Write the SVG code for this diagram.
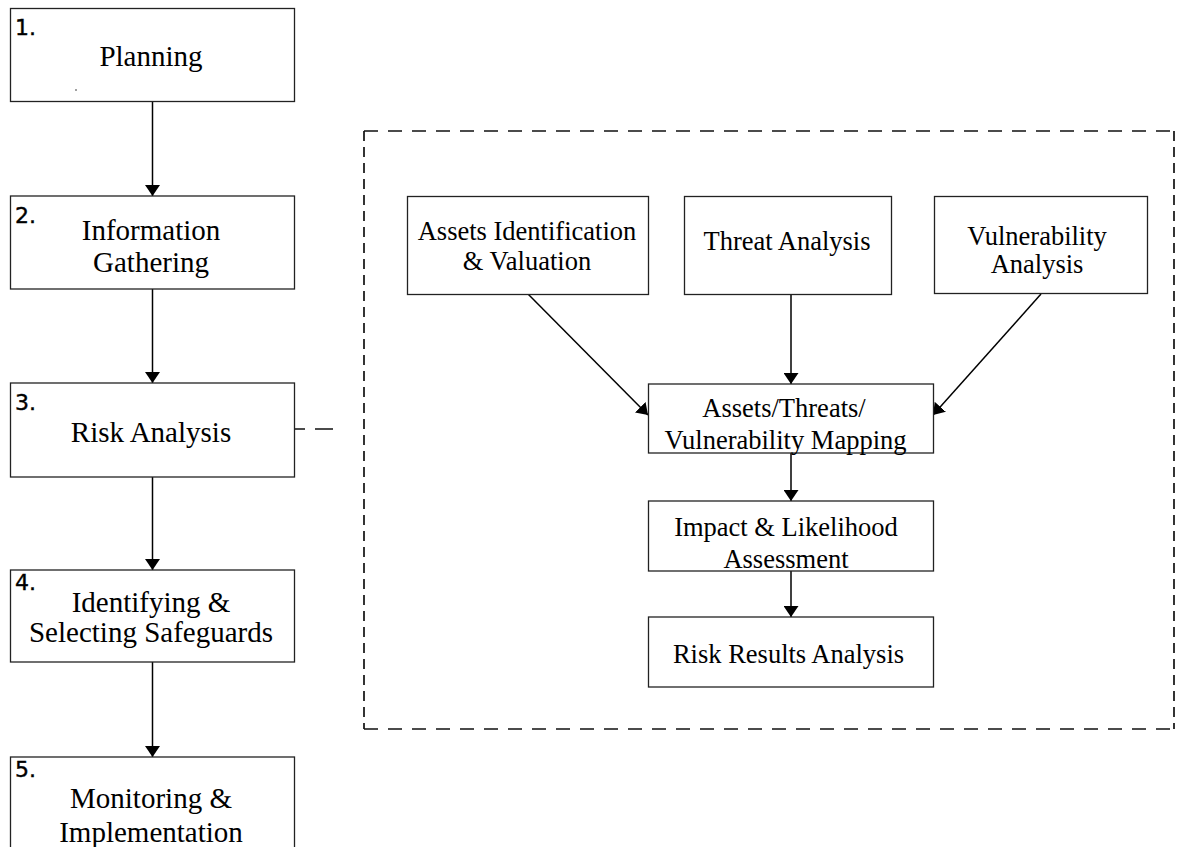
<svg xmlns="http://www.w3.org/2000/svg" width="1178" height="847" viewBox="0 0 1178 847">
<defs>
<marker id="arr" markerUnits="userSpaceOnUse" markerWidth="11" markerHeight="15" viewBox="0 0 11 15" refX="11" refY="7.5" orient="auto">
<path d="M0,0 L11,7.5 L0,15 z" fill="#000"/>
</marker>
</defs>
<style>
.box{fill:#fff;stroke:#222;stroke-width:1.3}
.t{font-family:"Liberation Serif","Times New Roman",serif;fill:#000;text-anchor:middle}
.o{font-size:29px}
.i{font-size:26.5px}
.n{font-family:"DejaVu Sans",Verdana,sans-serif;font-size:22px;fill:#000;stroke:#000;stroke-width:0.4}
.ca{stroke:#000;stroke-width:1.5;fill:none;marker-end:url(#arr)}
.d{stroke:#111;stroke-width:1.7;fill:none}
</style>
<rect width="1178" height="847" fill="#fff"/>
<g id="frame">
<line class="d" x1="364" y1="131" x2="1174" y2="131" stroke-dasharray="14 10"/>
<line class="d" x1="364" y1="729" x2="1174" y2="729" stroke-dasharray="14 10"/>
<line class="d" x1="364" y1="131" x2="364" y2="729" stroke-dasharray="10 6"/>
<line class="d" x1="1174" y1="131" x2="1174" y2="729" stroke-dasharray="10 6"/>
</g>
<g id="connectors">
<line class="ca" x1="152.5" y1="102" x2="152.5" y2="196"/>
<line class="ca" x1="152.5" y1="289" x2="152.5" y2="383"/>
<line class="ca" x1="152.5" y1="477" x2="152.5" y2="570"/>
<line class="ca" x1="152.5" y1="662" x2="152.5" y2="757"/>
<line class="d" x1="295" y1="429" x2="333" y2="429" stroke-dasharray="10 10 18"/>
<line class="ca" x1="528" y1="294" x2="648" y2="415"/>
<line class="ca" x1="791" y1="294" x2="791" y2="384"/>
<line class="ca" x1="1041" y1="294" x2="933" y2="415"/>
<line class="ca" x1="791" y1="453" x2="791" y2="501"/>
<line class="ca" x1="791" y1="571" x2="791" y2="617"/>
</g>
<g id="n1">
<rect class="box" x="10.5" y="8.5" width="284" height="93"/>
<text class="n" x="15" y="35">1.</text>
<text class="t o" x="151" y="66">Planning</text>
<rect x="75" y="89.5" width="2" height="1" fill="#444"/>
</g>
<g id="n2">
<rect class="box" x="10.5" y="196" width="284" height="93"/>
<text class="n" x="15" y="223">2.</text>
<text class="t o" x="151" y="240">Information</text>
<text class="t o" x="151" y="272">Gathering</text>
</g>
<g id="n3">
<rect class="box" x="10.5" y="383" width="284" height="94"/>
<text class="n" x="15" y="410">3.</text>
<text class="t o" x="151" y="442">Risk Analysis</text>
</g>
<g id="n4">
<rect class="box" x="10.5" y="570" width="284" height="92"/>
<text class="n" x="15" y="590">4.</text>
<text class="t o" x="151" y="612">Identifying &amp;</text>
<text class="t o" x="151" y="642">Selecting Safeguards</text>
</g>
<g id="n5">
<rect class="box" x="10.5" y="757" width="284" height="100"/>
<text class="n" x="15" y="777">5.</text>
<text class="t o" x="151" y="808">Monitoring &amp;</text>
<text class="t o" x="151" y="842">Implementation</text>
</g>
<g id="assets">
<rect class="box" x="407.5" y="196.5" width="241" height="98"/>
<text class="t i" x="527" y="240">Assets Identification</text>
<text class="t i" x="527" y="270">&amp; Valuation</text>
</g>
<g id="threat">
<rect class="box" x="684.5" y="196.5" width="207" height="98"/>
<text class="t i" x="787" y="250">Threat Analysis</text>
</g>
<g id="vuln">
<rect class="box" x="934.5" y="196.5" width="213" height="97"/>
<text class="t i" x="1037" y="245">Vulnerability</text>
<text class="t i" x="1037" y="273">Analysis</text>
</g>
<g id="mapping">
<rect class="box" x="648.5" y="384" width="285" height="69"/>
<text class="t i" x="784" y="417">Assets/Threats/</text>
<text class="t i" x="785.5" y="449">Vulnerability Mapping</text>
</g>
<g id="impact">
<rect class="box" x="648.5" y="501" width="285" height="70"/>
<text class="t i" x="786" y="536">Impact &amp; Likelihood</text>
<text class="t i" x="786" y="568">Assessment</text>
</g>
<g id="results">
<rect class="box" x="648.5" y="617" width="285" height="70"/>
<text class="t i" x="788.5" y="663">Risk Results Analysis</text>
</g>
</svg>
